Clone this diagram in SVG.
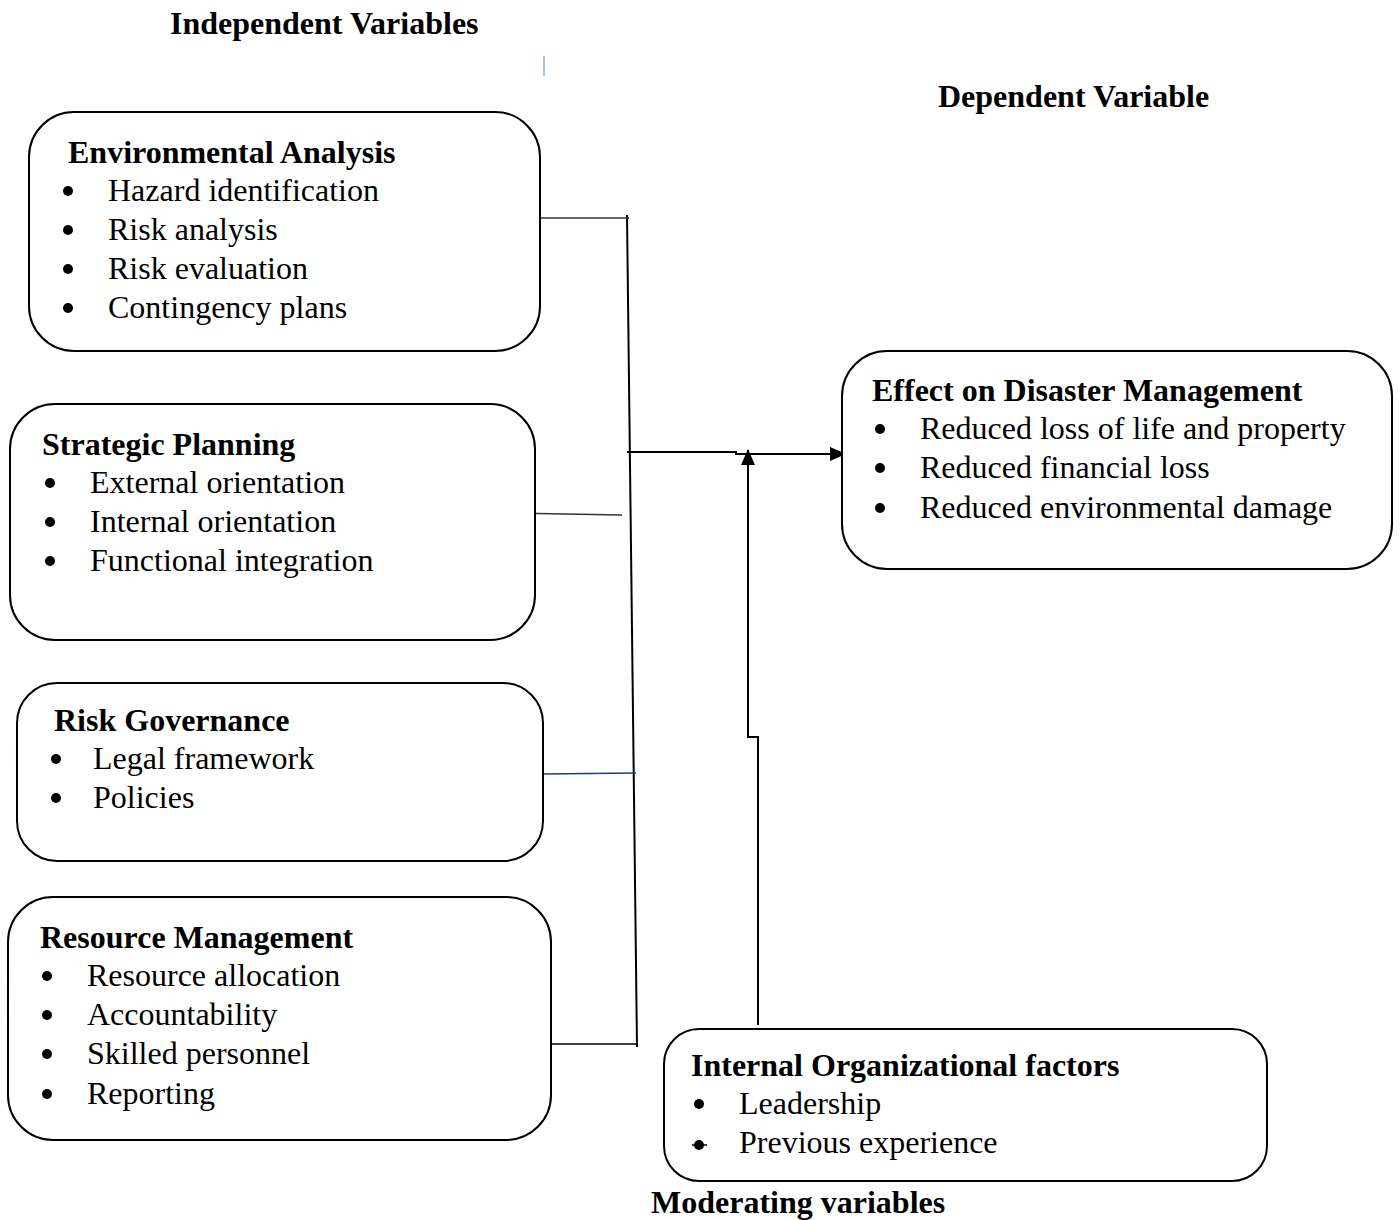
<svg xmlns="http://www.w3.org/2000/svg" width="1400" height="1220" viewBox="0 0 1400 1220">
<style>
.box{fill:#fff;stroke:#000;stroke-width:2}
.h{font-family:"Liberation Serif","Times New Roman",serif;font-weight:bold;font-size:32px;fill:#000}
.t{font-family:"Liberation Serif","Times New Roman",serif;font-size:32px;fill:#000}
.b{fill:#000}
.c{stroke:#000;stroke-width:2;fill:none}
</style>
<defs>
<marker id="ah" markerWidth="16" markerHeight="14" refX="15" refY="7" orient="auto" markerUnits="userSpaceOnUse">
<path d="M0,0 L16,7 L0,14 Z" fill="#000"/>
</marker>
</defs>
<rect width="1400" height="1220" fill="#fff"/>
<text class="h" x="170" y="34">Independent Variables</text>
<text class="h" x="938" y="107">Dependent Variable</text>
<text class="h" x="651" y="1213">Moderating variables</text>
<line x1="544" y1="56" x2="544" y2="76" stroke="#7fb2e6" stroke-width="1.5"/>

<g id="connectors">
<line class="c" x1="627" y1="215" x2="637" y2="1047"/>
<line x1="535" y1="218" x2="629" y2="218" stroke="#333" stroke-width="1.5"/>
<line x1="509" y1="513" x2="622" y2="515" stroke="#333" stroke-width="1.5"/>
<line x1="543" y1="774" x2="636" y2="773" stroke="#1f3a7a" stroke-width="1.5"/>
<line x1="543" y1="1044" x2="637" y2="1044" stroke="#000" stroke-width="1.5"/>
<path class="c" d="M627,452 L736,452 L736,454 L845,454" marker-end="url(#ah)"/>
<path class="c" d="M758,1025 L758,737 L748,737 L748,450" marker-end="url(#ah)"/>
</g>

<g id="env">
<rect class="box" x="29" y="112" width="511" height="239" rx="45"/>
<text class="h" x="68" y="163">Environmental Analysis</text>
<circle class="b" cx="68" cy="191" r="5"/><text class="t" x="108" y="201">Hazard identification</text>
<circle class="b" cx="68" cy="230" r="5"/><text class="t" x="108" y="240">Risk analysis</text>
<circle class="b" cx="68" cy="269" r="5"/><text class="t" x="108" y="279">Risk evaluation</text>
<circle class="b" cx="68" cy="308" r="5"/><text class="t" x="108" y="318">Contingency plans</text>
</g>

<g id="strategic">
<rect class="box" x="10" y="404" width="525" height="236" rx="45"/>
<text class="h" x="42" y="455">Strategic Planning</text>
<circle class="b" cx="50" cy="483" r="5"/><text class="t" x="90" y="493">External orientation</text>
<circle class="b" cx="50" cy="522" r="5"/><text class="t" x="90" y="532">Internal orientation</text>
<circle class="b" cx="50" cy="561" r="5"/><text class="t" x="90" y="571">Functional integration</text>
</g>

<g id="governance">
<rect class="box" x="17" y="683" width="526" height="178" rx="40"/>
<text class="h" x="54" y="731">Risk Governance</text>
<circle class="b" cx="56" cy="759" r="5"/><text class="t" x="93" y="769">Legal framework</text>
<circle class="b" cx="56" cy="798" r="5"/><text class="t" x="93" y="808">Policies</text>
</g>

<g id="resource">
<rect class="box" x="8" y="897" width="543" height="243" rx="45"/>
<text class="h" x="40" y="948">Resource Management</text>
<circle class="b" cx="47" cy="976" r="5"/><text class="t" x="87" y="986">Resource allocation</text>
<circle class="b" cx="47" cy="1015" r="5"/><text class="t" x="87" y="1025">Accountability</text>
<circle class="b" cx="47" cy="1054" r="5"/><text class="t" x="87" y="1064">Skilled personnel</text>
<circle class="b" cx="47" cy="1094" r="5"/><text class="t" x="87" y="1104">Reporting</text>
</g>

<g id="effect">
<rect class="box" x="842" y="351" width="550" height="218" rx="45"/>
<text class="h" x="872" y="401">Effect on Disaster Management</text>
<circle class="b" cx="880" cy="429" r="5"/><text class="t" x="920" y="439">Reduced loss of life and property</text>
<circle class="b" cx="880" cy="468" r="5"/><text class="t" x="920" y="478">Reduced financial loss</text>
<circle class="b" cx="880" cy="508" r="5"/><text class="t" x="920" y="518">Reduced environmental damage</text>
</g>

<g id="internal">
<rect class="box" x="664" y="1029" width="603" height="152" rx="35"/>
<text class="h" x="691" y="1076">Internal Organizational factors</text>
<circle class="b" cx="699" cy="1104" r="5"/><text class="t" x="739" y="1114">Leadership</text>
<circle class="b" cx="699" cy="1145" r="5"/><line x1="692" y1="1145" x2="707" y2="1145" stroke="#000" stroke-width="1.5"/><text class="t" x="739" y="1153">Previous experience</text>
</g>
</svg>
